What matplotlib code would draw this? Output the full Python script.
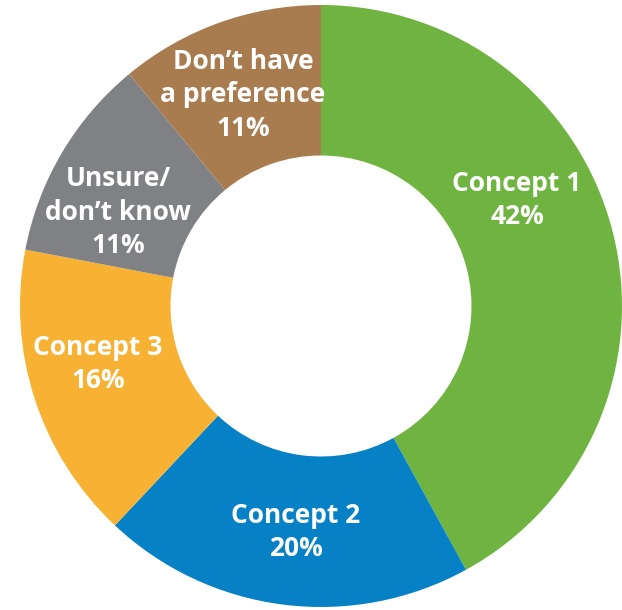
import numpy as np
import matplotlib.pyplot as plt

labels = ['Concept 1', 'Concept 2', 'Concept 3', 'Unsure/\ndon\u2019t know', 'Don\u2019t have\na preference']
shares = [42, 20, 16, 11, 11]
colors = ['#6FB440', '#0681C6', '#F7B133', '#808184', '#A97C50']

# label centres (axes data units, outer radius = 1)
label_xy = [(0.651, 0.352), (-0.083, -0.751), (-0.741, -0.193), (-0.674, 0.312), (-0.259, 0.701)]

fig = plt.figure(figsize=(6.22, 6.10), dpi=100)
ax = fig.add_axes([0, 0, 1, 1])

wedges, _ = ax.pie(shares, colors=colors, startangle=90, counterclock=False,
                   radius=1.0, wedgeprops=dict(width=0.5, linewidth=0))

for lab, val, (x, y) in zip(labels, shares, label_xy):
    ax.text(x, y, f'{lab}\n{val}%', ha='center', va='center', color='white',
            fontsize=19, fontweight='bold', family='Open Sans', linespacing=1.3)

ax.set_xlim(-1.0664, 1.0)
ax.set_ylim(-1.0100, 1.0166)
ax.set_aspect('equal')
ax.axis('off')

fig.savefig('out.png', dpi=100)
